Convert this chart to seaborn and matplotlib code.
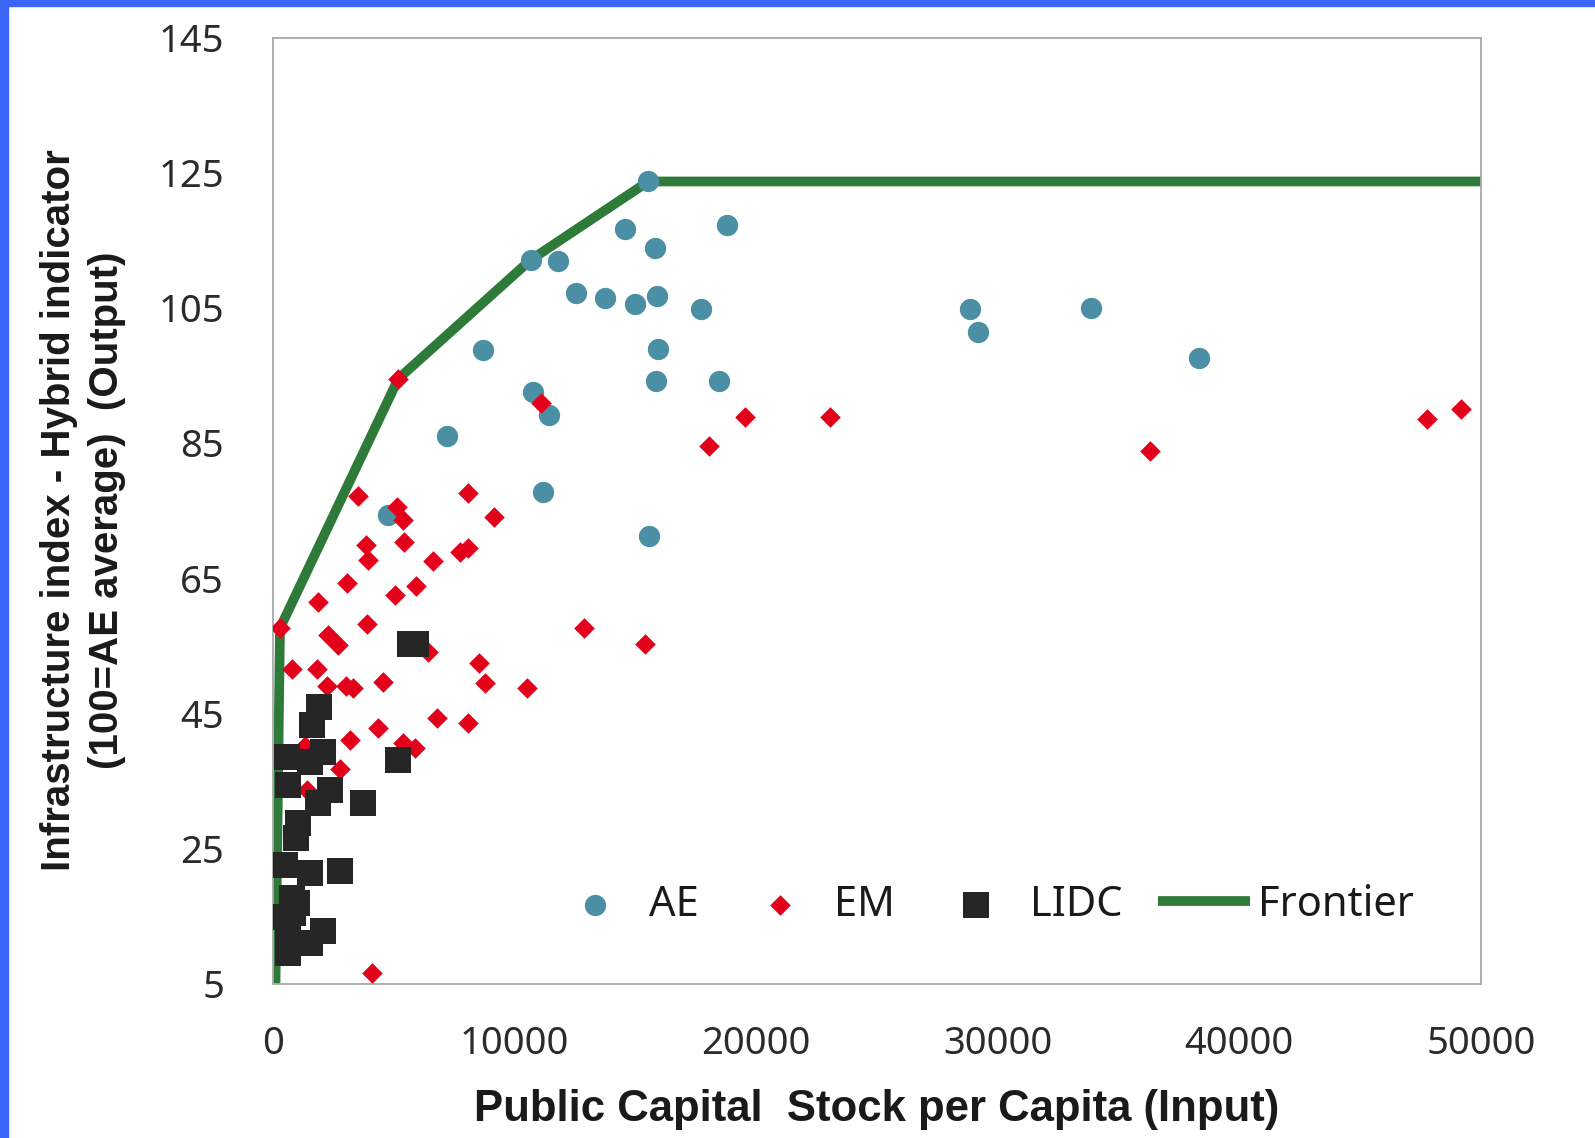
import matplotlib
matplotlib.use("Agg")
import matplotlib.pyplot as plt
import seaborn as sns
import pandas as pd
from matplotlib.patches import Rectangle

# ---------------- data ----------------
ae_x = [15546, 14581, 18814, 15822, 10679, 11797, 12554, 13767, 14982, 15918,
        17713, 28856, 29200, 33883, 38344, 8714, 15959, 15851, 18483, 10787,
        11449, 7229, 11201, 15587, 4787]
ae_y = [123.7, 116.7, 117.3, 113.8, 112.1, 112.0, 107.2, 106.5, 105.6, 106.8,
        104.9, 104.8, 101.4, 105.0, 97.6, 98.7, 98.9, 94.2, 94.2, 92.5,
        89.1, 86.0, 77.8, 71.2, 74.4]

em_x = [306, 5202, 11106, 19547, 23064, 18070, 36325, 47770, 49160, 3546,
        8098, 9161, 5160, 5408, 3852, 3960, 5449, 7754, 8098, 6624,
        3066, 5921, 5065, 1866, 3894, 12898, 15409, 2305, 2719, 6442,
        8553, 8789, 10514, 790, 1825, 2263, 3037, 3339, 4580, 6790,
        8098, 4374, 3203, 5408, 5892, 1341, 2788, 1411, 4100]
em_y = [57.6, 94.5, 90.9, 88.9, 88.9, 84.6, 83.8, 88.6, 90.1, 77.1,
        77.6, 74.0, 75.6, 73.6, 69.9, 67.7, 70.4, 68.9, 69.4, 67.5,
        64.3, 63.9, 62.5, 61.5, 58.2, 57.6, 55.2, 56.6, 55.1, 54.1,
        52.4, 49.5, 48.7, 51.5, 51.5, 49.0, 49.0, 48.7, 49.7, 44.3,
        43.5, 42.8, 41.1, 40.6, 39.8, 40.1, 36.7, 33.7, 6.5]

lidc_x = [5700, 5950, 1933, 1617, 583, 2099, 1548, 5176, 650, 2375,
          1866, 3753, 1064, 956, 513, 1548, 2789, 790, 170, 857,
          2099, 1548, 650, 650, 997]
lidc_y = [55.3, 55.3, 46.0, 43.3, 38.5, 39.3, 37.8, 38.1, 34.4, 33.7,
          31.7, 31.7, 28.7, 26.5, 22.6, 21.3, 21.7, 17.7, 14.9, 15.4,
          12.8, 11.0, 9.5, 12.4, 16.9]

frontier_x = [120, 306, 5202, 10679, 15546, 50000]
frontier_y = [5, 57.6, 94.5, 112.1, 123.7, 123.7]

x_ticks = [0, 10000, 20000, 30000, 40000, 50000]
y_ticks = [5, 25, 45, 65, 85, 105, 125, 145]

x_label = "Public Capital  Stock per Capita (Input)"
y_label = "Infrastructure index - Hybrid indicator\n(100=AE average)  (Output)"

# ---------------- styling ----------------
sns.set_theme(style="white")
plt.rcParams["font.family"] = ["Noto Sans", "DejaVu Sans"]

c_ae = "#4A8FA3"
c_em = "#E3001B"
c_lidc = "#262626"
c_front = "#2E7A38"
label_family = ["Liberation Sans", "DejaVu Sans"]

fig = plt.figure(figsize=(15.95, 11.38), dpi=100)
fig.patch.set_facecolor("white")
ax = fig.add_axes([0.1709, 0.1357, 0.7576, 0.8313])

sns.lineplot(x=frontier_x, y=frontier_y, sort=False, estimator=None,
             color=c_front, linewidth=7, ax=ax, label="Frontier",
             zorder=1, solid_capstyle="butt")
sns.scatterplot(x=ae_x, y=ae_y, marker="o", s=235, color=c_ae,
                linewidth=0, ax=ax, label="AE", zorder=2)
sns.scatterplot(x=em_x, y=em_y, marker="D", s=110, color=c_em,
                linewidth=0, ax=ax, label="EM", zorder=3)
sns.scatterplot(x=lidc_x, y=lidc_y, marker="s", s=330, color=c_lidc,
                linewidth=0, ax=ax, label="LIDC", zorder=4)

ax.set_xlim(0, 50000)
ax.set_ylim(5, 145)
ax.set_xticks(x_ticks)
ax.set_yticks(y_ticks)
ax.set_xticklabels([str(v) for v in x_ticks])
ax.set_yticklabels([str(v) for v in y_ticks])

for sp in ax.spines.values():
    sp.set_color("#A8A8A8")
    sp.set_linewidth(1.3)

ax.tick_params(axis="both", direction="in", length=11, width=1.0,
               color="#A0A0A0", labelsize=27.5, labelcolor="#2B2B2B")
ax.tick_params(axis="y", pad=35)
ax.tick_params(axis="x", pad=30)

ax.set_xlabel(x_label, fontsize=31.5, fontweight="bold", family=label_family,
              color="#1A1A1A", va="center")
ax.xaxis.set_label_coords(0.5, -0.1326)
ax.set_ylabel(y_label, fontsize=29, fontweight="bold", family=label_family,
              color="#1A1A1A", va="center", ha="center",
              multialignment="center", linespacing=1.35)
ax.yaxis.set_label_coords(-0.157, 0.5)

handles, labels = ax.get_legend_handles_labels()
order = ["AE", "EM", "LIDC", "Frontier"]
hmap = dict(zip(labels, handles))
ax.legend([hmap[k] for k in order], order, loc="center left",
          bbox_to_anchor=(0.2287, 0.0835), ncol=4, frameon=False,
          fontsize=30, handlelength=2.2, handletextpad=0.2,
          columnspacing=0.85, borderpad=0, borderaxespad=0,
          labelcolor="#1A1A1A")

# blue page border (left and top)
fig.patches.append(Rectangle((0, 0), 8 / 1595, 1, transform=fig.transFigure,
                             color="#3A66F8", zorder=10))
fig.patches.append(Rectangle((0, 1 - 6 / 1138), 1, 6 / 1138,
                             transform=fig.transFigure,
                             color="#3A66F8", zorder=10))

fig.savefig("out.png", dpi=100)
